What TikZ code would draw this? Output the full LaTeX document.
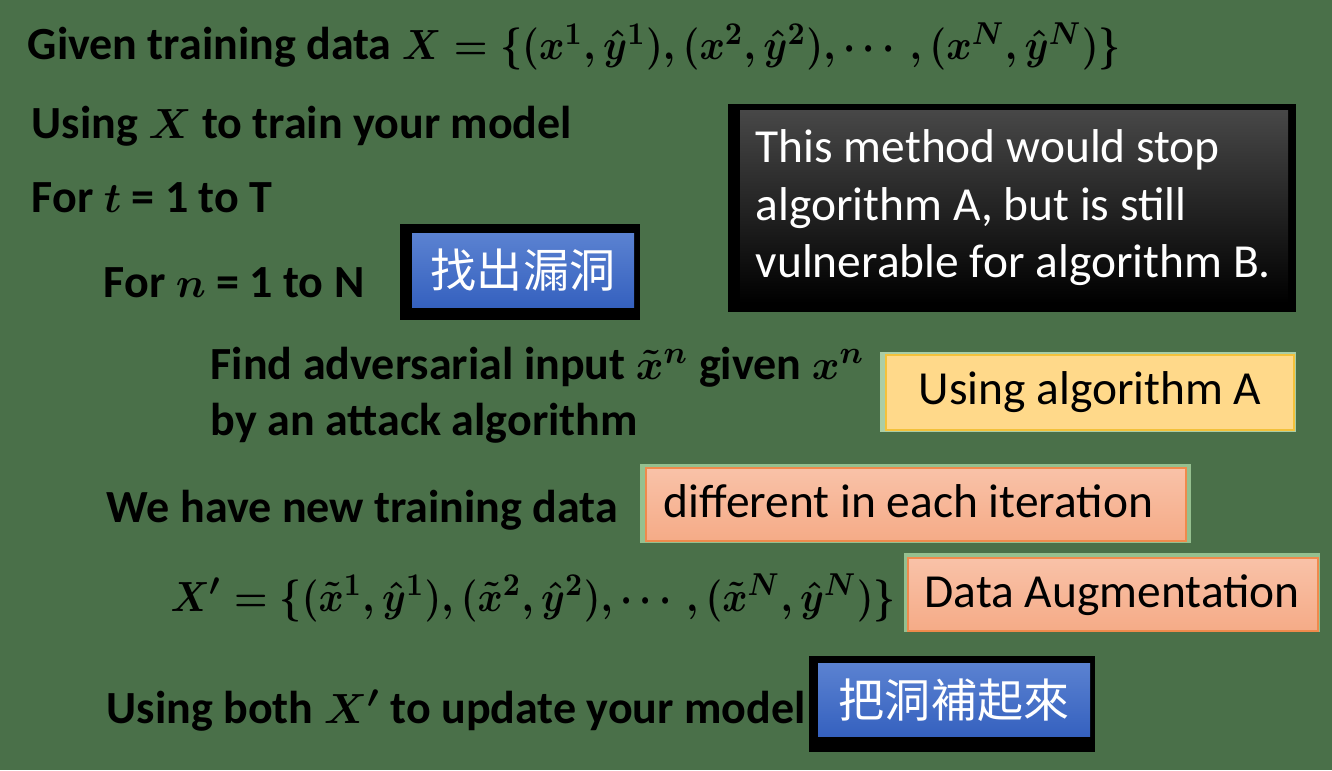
\documentclass[tikz,border=0pt]{standalone}
\usepackage{amsmath}
\usepackage{fontspec}
\setmainfont{Carlito}
\newfontfamily\cjk{Noto Sans CJK TC}
\definecolor{bggreen}{HTML}{4A7049}
\definecolor{bluetop}{HTML}{5B82D1}
\definecolor{bluebot}{HTML}{3561BF}
\definecolor{paleedge}{HTML}{95C08F}
\definecolor{yellowfill}{HTML}{FFD98A}
\definecolor{yellowline}{HTML}{F3C13A}
\definecolor{orangetop}{HTML}{F9C2A8}
\definecolor{orangebot}{HTML}{F5AB87}
\definecolor{orangeline}{HTML}{EF8A4C}

\tikzset{
  line/.style={anchor=base west, inner sep=0pt, text=black,
    font=\bfseries\boldmath\fontsize{13.1}{15.7}\selectfont},
  boxtext/.style={inner sep=0pt, text=black, font=\fontsize{13.5}{16.4}\selectfont},
  notetext/.style={boxtext, anchor=base west, text=white},
  cjktext/.style={inner sep=0pt, text=white, font=\cjk\fontsize{13.1}{15.7}\selectfont},
  bluebox/.style={top color=bluetop, bottom color=bluebot},
  notebox/.style={top color=black!72, middle color=black, bottom color=black},
  orangebox/.style={top color=orangetop, bottom color=orangebot, draw=orangeline, line width=0.6pt},
}

\begin{document}
\begin{tikzpicture}
\useasboundingbox (0,0) rectangle (13.32,7.70);
\fill[bggreen] (0,0) rectangle (13.32,7.70);
% the loop, in black
\node[line] (given) at (0.27,7.10) {Given training data \resizebox{7.19cm}{\height}{$X=\{(x^1,\hat{y}^1),(x^2,\hat{y}^2),\cdots,(x^N,\hat{y}^N)\}$}};
\node[line] (train) at (0.31,6.32) {Using $X$ to train your model};
\node[line] (fort) at (0.31,5.58) {For $t$ = 1 to T};
\node[line] (forn) at (1.03,4.73) {For $n$ = 1 to N};
\node[line] (findadv) at (2.10,3.91) {Find adversarial input $\tilde{x}^n$ given $x^n$};
\node[line] (attack) at (2.10,3.35) {by an attack algorithm};
\node[line] (newdata) at (1.06,2.48) {We have new training data};
\node[line] (xprime) at (1.70,1.59) {\resizebox{7.25cm}{\height}{$X' = \{(\tilde{x}^1,\hat{y}^1),(\tilde{x}^2,\hat{y}^2),\cdots,(\tilde{x}^N,\hat{y}^N)\}$}};
\node[line] (update) at (1.06,0.47) {Using both $X'$ to update your model};
% 找出漏洞
\fill[black] (4.00,5.46) rectangle (6.40,4.50);
\shade[bluebox] (4.12,5.37) rectangle (6.34,4.63);
\node[cjktext] (holes) at (5.23,5.00) {找出漏洞};
% note on the right
\fill[black] (7.28,6.66) rectangle (12.96,4.58);
\shade[notebox] (7.40,6.60) rectangle (12.88,4.67);
\node[notetext] (note1) at (7.55,6.08) {This method would stop};
\node[notetext] (note2) at (7.55,5.50) {algorithm A, but is still};
\node[notetext] (note3) at (7.55,4.93) {vulnerable for algorithm B.};
% algorithm A
\fill[paleedge!80!white] (8.80,4.18) rectangle (12.96,3.38);
\fill[yellowfill, draw=yellowline, line width=0.6pt] (8.86,4.15) rectangle (12.94,3.40);
\node[boxtext] (algoa) at (10.90,3.775) {Using algorithm A};
% different in each iteration
\fill[paleedge] (6.40,3.06) rectangle (11.91,2.27);
\shade[orangebox] (6.46,3.02) rectangle (11.86,2.29);
\node[boxtext, anchor=base west] (differ) at (6.63,2.53) {different in each iteration};
% Data Augmentation
\fill[paleedge] (9.04,2.17) rectangle (13.20,1.38);
\shade[orangebox] (9.08,2.12) rectangle (13.18,1.39);
\node[boxtext, anchor=base west] (augment) at (9.24,1.63) {Data Augmentation};
% 把洞補起來
\fill[black] (8.09,1.14) rectangle (10.95,0.18);
\shade[bluebox] (8.18,1.07) rectangle (10.90,0.34);
\node[cjktext] (patch) at (9.54,0.70) {把洞補起來};
\end{tikzpicture}
\end{document}
